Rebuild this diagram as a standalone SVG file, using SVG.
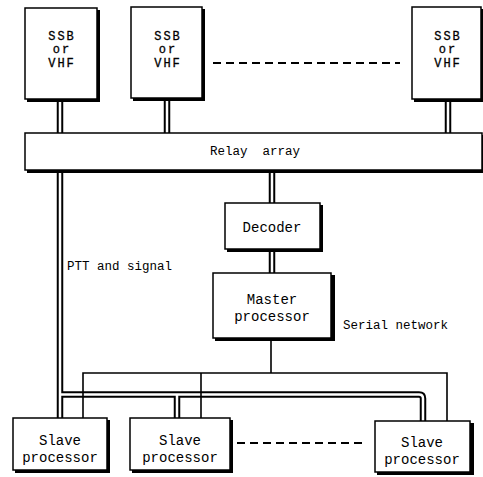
<svg xmlns="http://www.w3.org/2000/svg" width="483" height="477" viewBox="0 0 483 477">
<style>
.sh{fill:#000}
.bx{fill:#fff;stroke:#000;stroke-width:1.5}
.t{font-family:"Liberation Mono",monospace;font-size:14px;fill:#000;text-anchor:middle}
.tb{font-family:"Liberation Mono",monospace;font-size:12px;fill:#000;text-anchor:middle;letter-spacing:2px;stroke:#000;stroke-width:0.3}
.lb{font-family:"Liberation Mono",monospace;font-size:12.5px;fill:#000}
.dbo{fill:none;stroke:#000;stroke-width:6.5}
.dbi{fill:none;stroke:#fff;stroke-width:2.5}
.sg{fill:none;stroke:#000;stroke-width:1.6}
.ds{fill:none;stroke:#000;stroke-width:2;stroke-dasharray:8,5}
</style>
<rect x="0" y="0" width="483" height="477" fill="#fff"/>
<g id="connectors">
<path class="dbo" d="M60 99V133M167 99V133M448 99V133M272 170V203M272 249V273M60 170V418M60 394.5H419Q423 394.5 423 398.5V421M177 394.5V418"/>
<path class="dbi" d="M60 99V133M167 99V133M448 99V133M272 170V203M272 249V273M60 170V418M60 394.5H419Q423 394.5 423 398.5V421M177 394.5V418"/>
<path class="sg" d="M271 338V373M83 418V373H447V421M201 373V418"/>
<path class="ds" d="M213 63H400M237 443H363"/>
</g>
<g id="ssb1"><rect class="sh" x="27" y="10" width="73" height="92"/><rect class="bx" x="25" y="8" width="72" height="91"/>
<text class="tb" x="62" y="40">SSB</text><text class="tb" x="62" y="53">or</text><text class="tb" x="62" y="67">VHF</text></g>
<g id="ssb2"><rect class="sh" x="133" y="9" width="72" height="92"/><rect class="bx" x="131" y="7" width="71" height="91"/>
<text class="tb" x="168" y="40">SSB</text><text class="tb" x="168" y="53">or</text><text class="tb" x="168" y="67">VHF</text></g>
<g id="ssb3"><rect class="sh" x="414" y="9" width="72" height="93"/><rect class="bx" x="412" y="7" width="69" height="92"/>
<text class="tb" x="448" y="40">SSB</text><text class="tb" x="448" y="53">or</text><text class="tb" x="448" y="67">VHF</text></g>
<g id="relay"><rect class="sh" x="27" y="135" width="460" height="38"/><rect class="bx" x="25" y="133" width="457" height="37"/>
<text class="lb" x="255" y="155" text-anchor="middle" xml:space="preserve">Relay  array</text></g>
<g id="decoder"><rect class="sh" x="227" y="205" width="96" height="47"/><rect class="bx" x="225" y="203" width="95" height="46"/>
<text class="t" x="272" y="232" font-size="15">Decoder</text></g>
<g id="master"><rect class="sh" x="215" y="275" width="120" height="66"/><rect class="bx" x="213" y="273" width="118" height="65"/>
<text class="t" x="272" y="304">Master</text><text class="t" x="272" y="321">processor</text></g>
<g id="slave1"><rect class="sh" x="15" y="420" width="95" height="53"/><rect class="bx" x="13" y="418" width="94" height="52"/>
<text class="t" x="60" y="445">Slave</text><text class="t" x="60" y="462">processor</text></g>
<g id="slave2"><rect class="sh" x="132" y="420" width="101" height="53"/><rect class="bx" x="130" y="418" width="100" height="52"/>
<text class="t" x="180" y="445">Slave</text><text class="t" x="180" y="462">processor</text></g>
<g id="slave3"><rect class="sh" x="377" y="423" width="97" height="52"/><rect class="bx" x="375" y="421" width="95" height="51"/>
<text class="t" x="422" y="447">Slave</text><text class="t" x="422" y="464">processor</text></g>
<g id="labels">
<text class="lb" x="67" y="270">PTT and signal</text>
<text class="lb" x="343" y="329">Serial network</text>
</g>
</svg>
